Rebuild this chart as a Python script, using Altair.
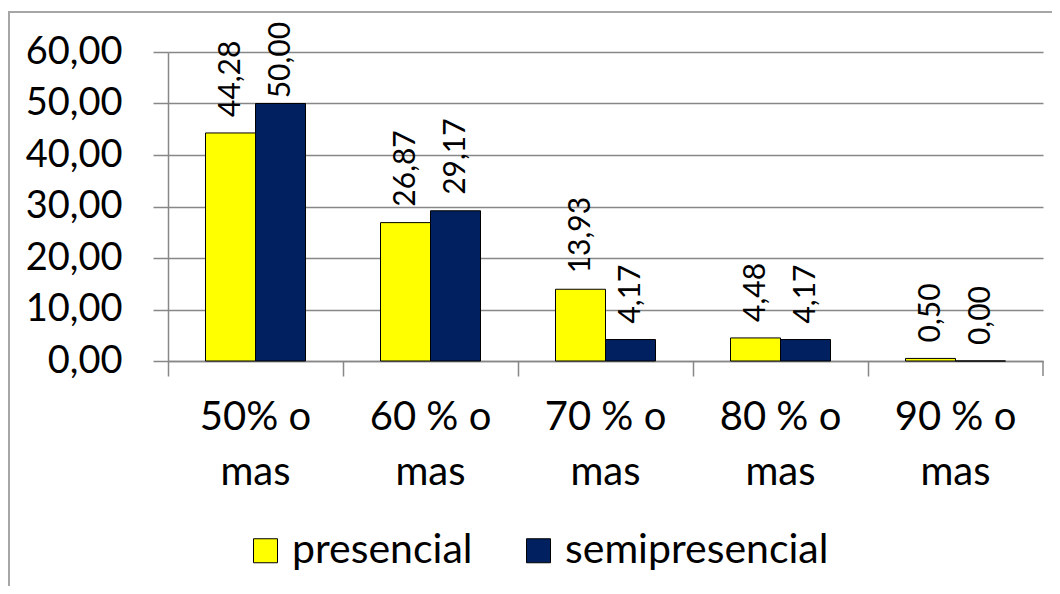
import altair as alt
import pandas as pd

categories = ["50% o mas", "60 % o mas", "70 % o mas", "80 % o mas", "90 % o mas"]
series = ["presencial", "semipresencial"]
presencial = [44.28, 26.87, 13.93, 4.48, 0.50]
semipresencial = [50.00, 29.17, 4.17, 4.17, 0.00]
y_ticks = [0, 10, 20, 30, 40, 50, 60]
colors = ["#FFFF00", "#002060"]

rows = []
for c, p, s in zip(categories, presencial, semipresencial):
    rows.append({"cat": c, "serie": series[0], "val": p})
    rows.append({"cat": c, "serie": series[1], "val": s})
df = pd.DataFrame(rows)

FONT = "Lato"
GRAY = "#878787"
W, H = 875, 309

y_axis = alt.Axis(
    title=None, values=y_ticks, tickSize=15, tickColor=GRAY, tickWidth=1.5,
    domainColor=GRAY, domainWidth=1.5, gridColor=GRAY, gridWidth=1.5,
    labelFont=FONT, labelFontSize=38, labelColor="black", labelPadding=31,
    labelExpr="replace(format(datum.value, '.2f'), '.', ',')",
)
y_scale = alt.Scale(domain=[0, 60], nice=False)

x_enc = alt.X(
    "cat:N", sort=categories,
    scale=alt.Scale(paddingInner=0, paddingOuter=0),
    axis=alt.Axis(
        title=None, labelAngle=0, bandPosition=0, tickSize=15,
        tickColor=GRAY, domainColor=GRAY, tickWidth=1.5, domainWidth=1.5,
        labelFont=FONT, labelFontSize=40, labelColor="black", labelPadding=21,
        labelLineHeight=55, grid=False,
        labelExpr="[slice(datum.label, 0, lastindexof(datum.label, ' ')), slice(datum.label, lastindexof(datum.label, ' ') + 1)]",
    ),
)
xoff = alt.XOffset("serie:N", sort=series, scale=alt.Scale(paddingOuter=0.75, paddingInner=0))

bars = alt.Chart(df).mark_bar(stroke="black", strokeWidth=1).encode(
    x=x_enc,
    xOffset=xoff,
    y=alt.Y("val:Q", scale=y_scale, axis=y_axis),
    color=alt.Color(
        "serie:N",
        scale=alt.Scale(domain=series, range=colors),
        legend=alt.Legend(
            title=None, orient="none", legendX=77, legendY=478, direction="horizontal",
            symbolType="square", symbolSize=576, symbolStrokeColor="black",
            symbolStrokeWidth=1, symbolOpacity=1, labelFont=FONT, labelFontSize=41,
            labelColor="black", labelOffset=6, columnPadding=45, labelLimit=0,
        ),
    ),
)

labels = alt.Chart(df).transform_calculate(
    lab="replace(format(datum.val, '.2f'), '.', ',')",
    pos="min(datum.val + 3.1, 51)",
).mark_text(
    angle=270, align="left", baseline="middle", font=FONT, fontSize=30, color="black"
).encode(
    x=alt.X("cat:N", sort=categories),
    xOffset=xoff,
    y=alt.Y("pos:Q", scale=y_scale, axis=y_axis),
    text="lab:N",
)

one = pd.DataFrame({"a": [0]})
end_tick = alt.Chart(one).mark_rule(color=GRAY, strokeWidth=1.5).encode(
    x=alt.value(W), y=alt.value(H), y2=alt.value(H + 15)
)
frame_left = alt.Chart(one).mark_rule(color="#a6a6a6", strokeWidth=2).encode(
    x=alt.value(-159), y=alt.value(-40), y2=alt.value(600)
)
frame_top = alt.Chart(one).mark_rule(color="#a6a6a6", strokeWidth=2).encode(
    x=alt.value(-160), x2=alt.value(900), y=alt.value(-40)
)

chart = alt.layer(bars, labels, end_tick, frame_left, frame_top).properties(
    width=W, height=H,
    autosize=alt.AutoSizeParams(type="none"),
    padding={"left": 160, "top": 44, "right": 9, "bottom": 225},
).configure_view(stroke=None)

chart.save("out.html", embed_options={"renderer": "svg", "actions": False})
